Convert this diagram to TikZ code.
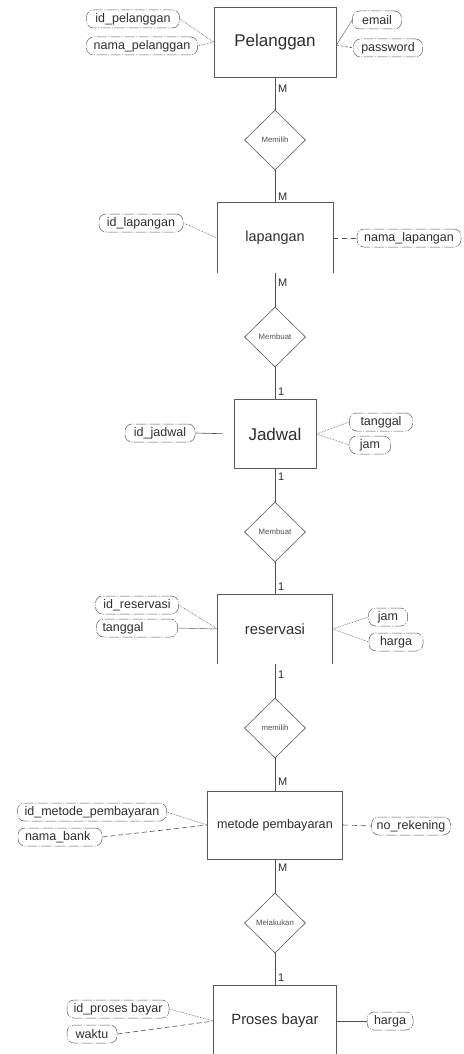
\documentclass[tikz,border=0pt]{standalone}
\usepackage{fontspec}
\setmainfont{Liberation Sans}
\usetikzlibrary{shapes.geometric}
\usetikzlibrary{calc,positioning}

\definecolor{boxgray}{HTML}{5A5A5A}
\definecolor{linegray}{HTML}{505050}
\definecolor{txtgray}{HTML}{2E2E2E}

\begin{document}
\begin{tikzpicture}[x=1pt,y=-1pt]
    \tikzstyle{ent} = [rectangle, draw=boxgray, line width=0.8pt, minimum width=122pt, minimum height=70pt, inner sep=0pt, text=txtgray]
    \tikzstyle{entopen} = [ent, draw=none]
    \tikzstyle{rel} = [diamond, draw=boxgray, line width=0.6pt, minimum width=61pt, minimum height=60pt, inner sep=0pt, font=\fontsize{7.8}{8}\selectfont, text=linegray]
    \tikzstyle{attr} = [rectangle, rounded corners=7pt, draw=boxgray, line width=0.5pt, dash pattern=on 10pt off 1.5pt on 1pt off 1.5pt, minimum height=18pt, inner xsep=5pt, inner ysep=0pt, font=\fontsize{12.5}{14}\selectfont, text=txtgray]
    \tikzstyle{card} = [anchor=west, inner sep=0pt, font=\fontsize{11}{12}\selectfont, text=txtgray]
    \tikzstyle{link} = [linegray, line width=0.6pt]

    \clip[use as bounding box] (0,0) rectangle (463,1054);

    % Entities .........................
	\node[ent, font=\fontsize{17}{19}\selectfont] (pel) at (275,42) {Pelanggan};
	\node[entopen, minimum width=115pt, font=\fontsize{14.4}{16}\selectfont] (lap) at (275,238) {lapangan};
	\node[ent, minimum width=82pt, minimum height=69pt, font=\fontsize{17}{19}\selectfont] (jad) at (275,434) {Jadwal};
	\node[entopen, minimum width=114pt, minimum height=69pt, font=\fontsize{14.8}{16}\selectfont] (res) at (275,629) {reservasi};
	\node[ent, minimum width=135pt, minimum height=68pt, font=\fontsize{12.6}{14}\selectfont] (met) at (275,825) {metode pembayaran};
	\node[entopen, font=\fontsize{14.8}{16}\selectfont] (pro) at (275,1021) {Proses bayar};

	\draw[boxgray, line width=0.8pt] (lap.south west) -- (lap.north west) -- (lap.north east) -- (lap.south east);
	\draw[boxgray, line width=0.8pt] (res.south west) -- (res.north west) -- (res.north east) -- (res.south east);
	\draw[boxgray, line width=0.8pt] (pro.south west) -- (pro.north west) -- (pro.north east) -- (pro.south east);

    % Relations .........................
	\node[rel] (r1) at (275,140) {Memilih};
	\node[rel] (r2) at (275,337) {Membuat};
	\node[rel] (r3) at (275,532) {Membuat};
	\node[rel] (r4) at (275,728) {memilih};
	\node[rel] (r5) at (275,923) {Melakukan};

	\draw[link] (pel) -- (r1);
	\draw[link] (r1) -- (lap);
	\draw[link] (lap.south) -- (r2);
	\draw[link] (r2) -- (jad);
	\draw[link] (jad) -- (r3);
	\draw[link] (r3) -- (res);
	\draw[link] (res.south) -- (r4);
	\draw[link] (r4) -- (met);
	\draw[link] (met) -- (r5);
	\draw[link] (r5) -- (pro);

	\node[card] (c1) at (278,89) {M};
	\node[card] (c2) at (278,197) {M};
	\node[card] (c3) at (278,283) {M};
	\node[card] (c4) at (278,392) {1};
	\node[card] (c5) at (278,477) {1};
	\node[card] (c6) at (278,587) {1};
	\node[card] (c7) at (278,675) {1};
	\node[card] (c8) at (278,782) {M};
	\node[card] (c9) at (278,868) {M};
	\node[card] (c10) at (278,978) {1};

    % Attributes .........................
	\node[attr, minimum width=93pt] (idpel) at (133,19) {id\_pelanggan};
	\node[attr, minimum width=111pt] (namapel) at (142,46) {nama\_pelanggan};
	\node[attr, minimum width=49pt] (email) at (377,20) {email};
	\node[attr, minimum width=69pt] (pass) at (388,48) {password};

	\node[attr, minimum width=84pt] (idlap) at (141,223) {id\_lapangan};
	\node[attr, minimum width=104pt] (namalap) at (409,238) {nama\_lapangan};

	\node[attr, minimum width=70pt] (idjad) at (160,433) {id\_jadwal};
	\node[attr, minimum width=63pt] (tgl1) at (381,422) {tanggal};
	\node[attr, minimum width=41pt] (jam1) at (370,445) {jam};

	\node[attr, minimum width=83pt] (idres) at (137,605) {id\_reservasi};
	\node[attr, minimum width=81pt, text width=69pt] (tgl2) at (137,628) {tanggal};
	\node[attr, minimum width=39pt] (jam2) at (388,617) {jam};
	\node[attr, minimum width=54pt] (harga1) at (396,642) {harga};

	\node[attr, minimum width=149pt] (idmet) at (92,812) {id\_metode\_pembayaran};
	\node[attr, minimum width=84pt, text width=70pt] (bank) at (60,837) {nama\_bank};
	\node[attr, minimum width=78pt] (norek) at (411,826) {no\_rekening};

	\node[attr, minimum width=102pt] (idpro) at (118,1009) {id\_proses bayar};
	\node[attr, minimum width=50pt] (waktu) at (92,1034) {waktu};
	\node[attr, minimum width=46pt] (harga2) at (390,1021) {harga};

	\draw[link, densely dotted] (idpel.east) -- (pel.west);
	\draw[link, densely dotted] (namapel.east) -- (pel.west);
	\draw[link, line width=0.4pt] ($(pel.east)+(0,3)$) -- (email.west);
	\draw[link, dash pattern=on 2.5pt off 2pt] ($(pel.east)+(0,3)$) -- (pass.west);

	\draw[link, densely dotted] (idlap.east) -- (lap.west);
	\draw[link, dash pattern=on 5pt off 4pt] (lap.east) -- (namalap.west);

	\draw[link, shorten >=11pt] (idjad.east) -- (jad.west);
	\draw[link, densely dotted] (jad.east) -- (tgl1.west);
	\draw[link, densely dotted] (jad.east) -- (jam1.west);

	\draw[link, densely dotted] (idres.east) -- (res.west);
	\draw[link, line width=0.4pt] (tgl2.east) -- (res.west);
	\draw[link, densely dotted] (res.east) -- (jam2.west);
	\draw[link, densely dotted] (res.east) -- (harga1.west);

	\draw[link, densely dotted] (idmet.east) -- (met.west);
	\draw[link, dash pattern=on 5pt off 3pt] (bank.east) -- (met.west);
	\draw[link, dash pattern=on 5pt off 4pt] (met.east) -- (norek.west);

	\draw[link, densely dotted] (idpro.east) -- (pro.west);
	\draw[link, dash pattern=on 5pt off 3pt] (waktu.east) -- (pro.west);
	\draw[link] (pro.east) -- (harga2.west);

\end{tikzpicture}
\end{document}
